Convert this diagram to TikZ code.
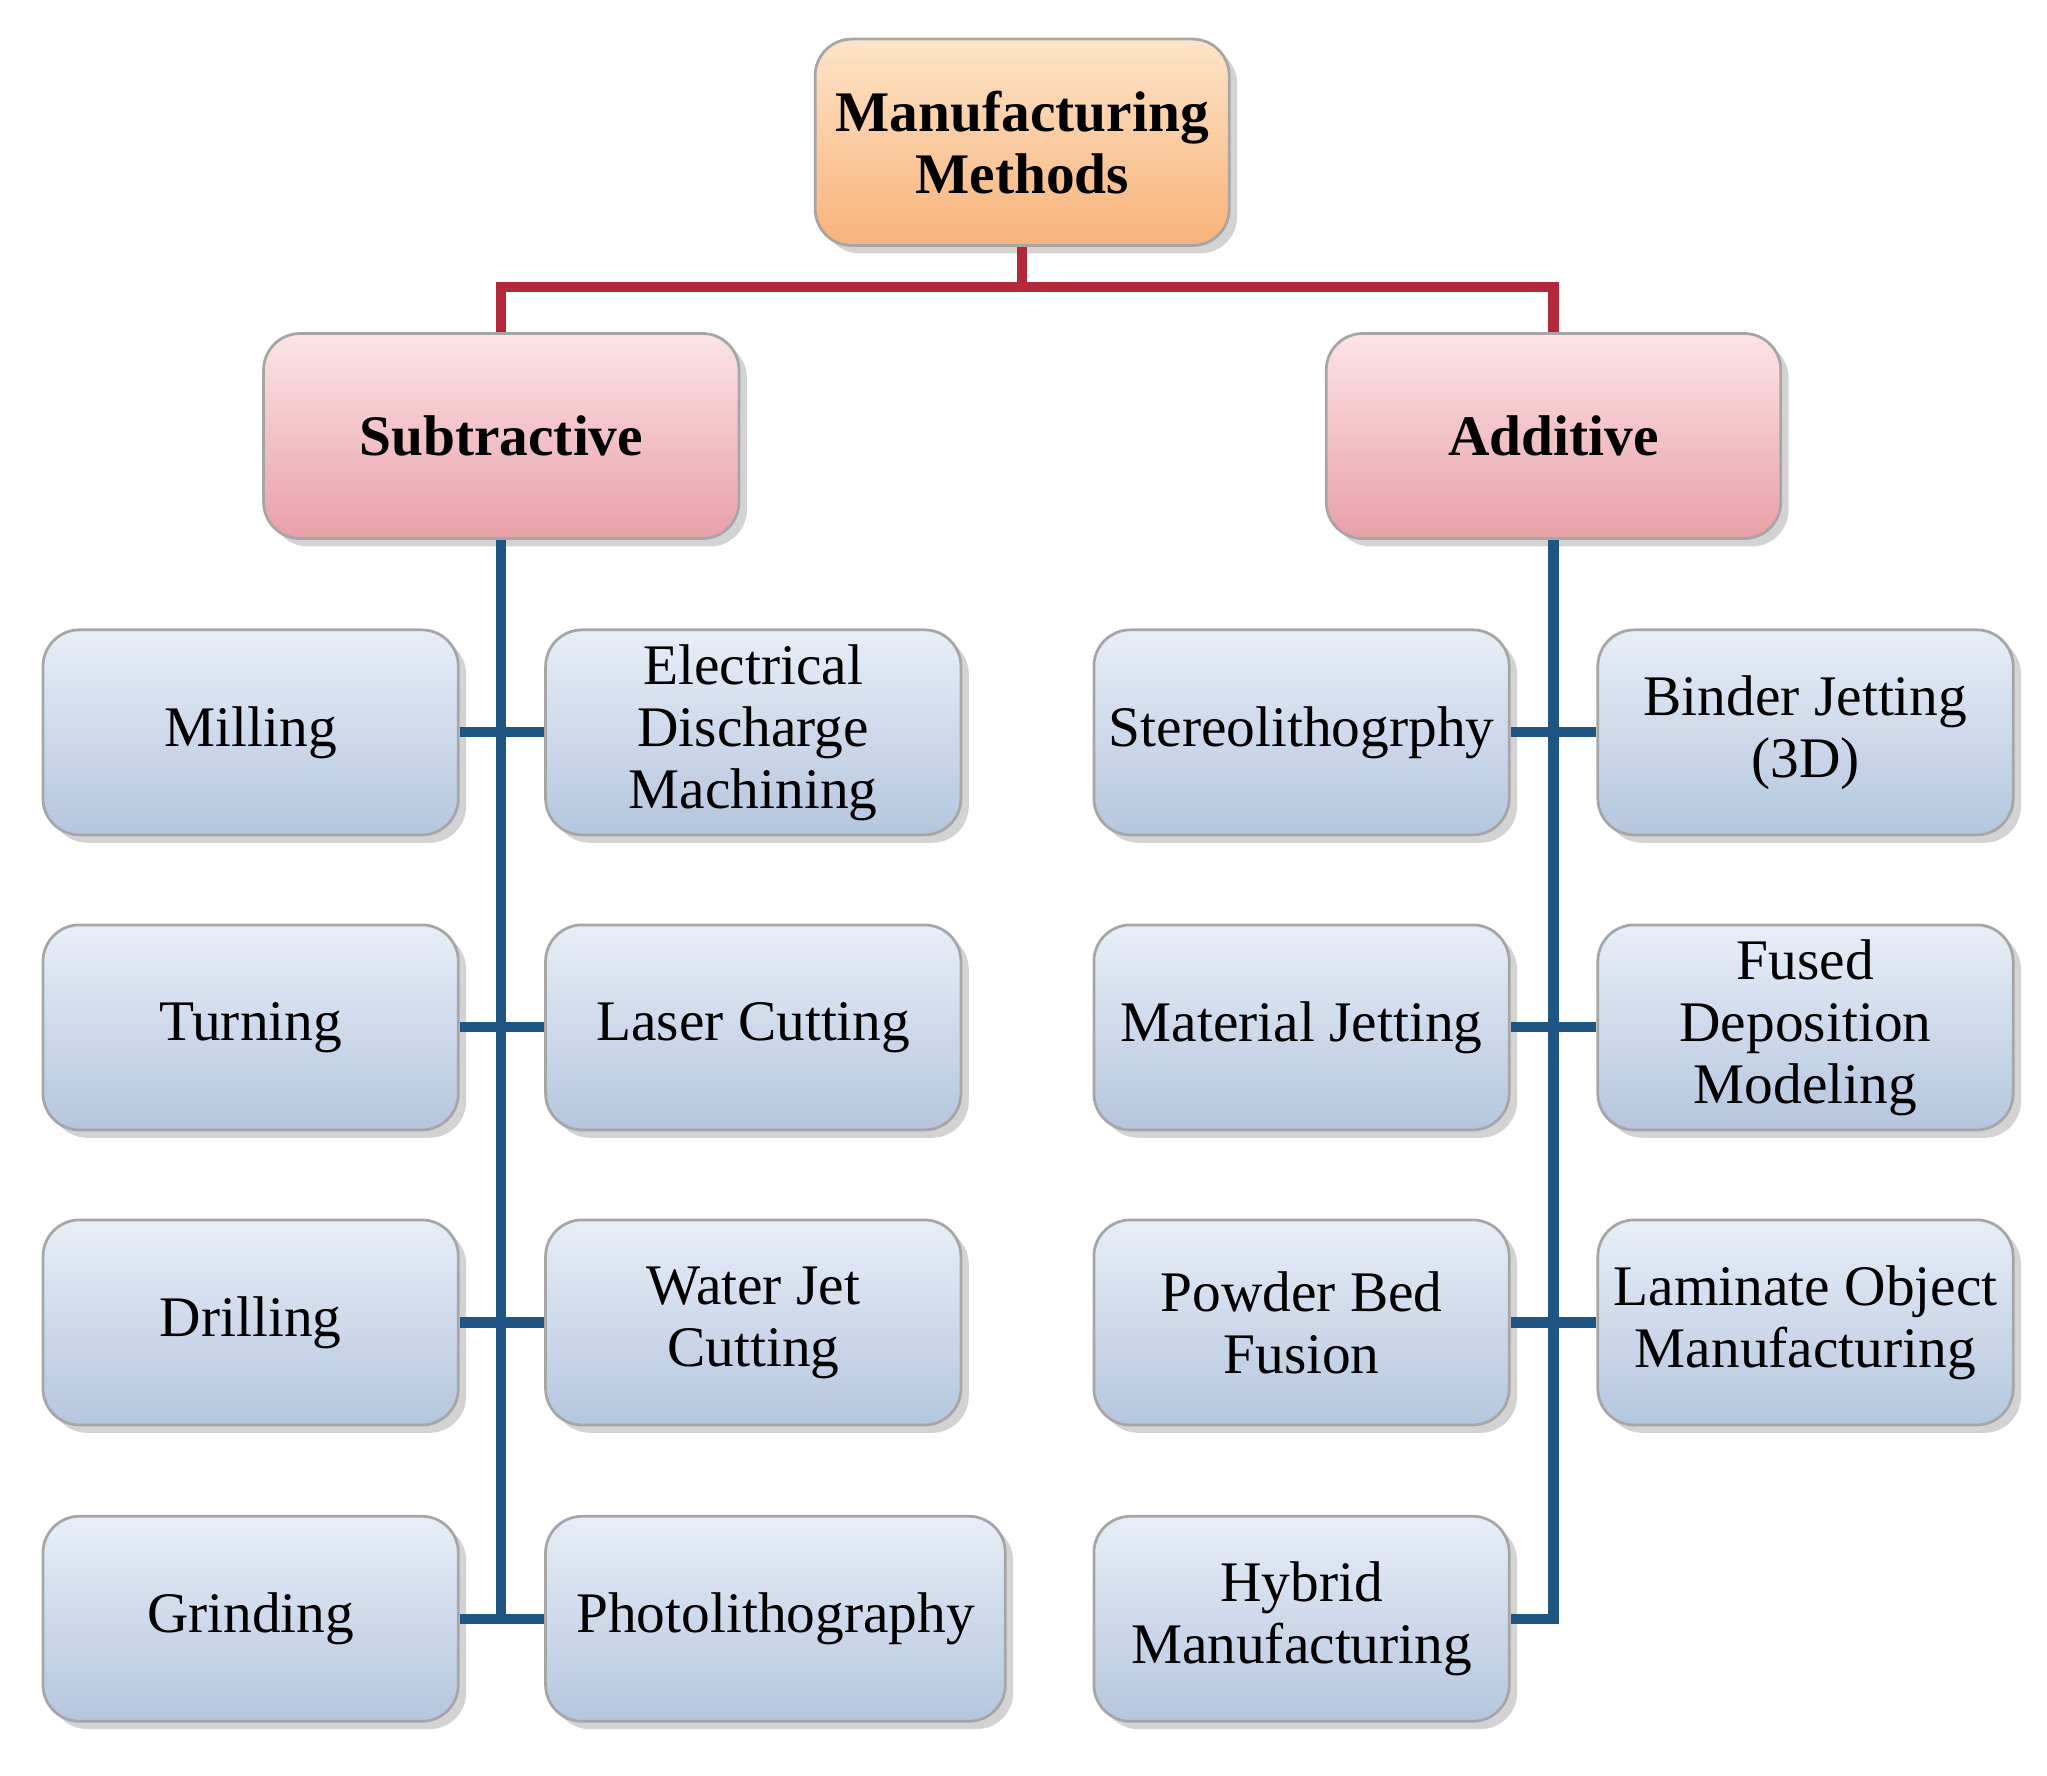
\documentclass[tikz,border=0pt]{standalone}
\usepackage{fontspec}
\setmainfont{Liberation Serif}
\usetikzlibrary{shadows}
\begin{document}
\begin{tikzpicture}[x=0.01cm,y=-0.01cm,
 box/.style={draw=gray!70,line width=0.6pt,rounded corners=0.28cm,align=center,inner sep=0pt,
   font=\fontsize{12.5}{13.5}\selectfont,drop shadow={shadow xshift=0.06cm,shadow yshift=-0.06cm,opacity=0.35}},
 leaf/.style={box,top color={rgb,255:red,232;green,238;blue,247},bottom color={rgb,255:red,180;green,198;blue,222},minimum width=3.18cm,minimum height=1.57cm},
 cat/.style={box,top color={rgb,255:red,252;green,228;blue,230},bottom color={rgb,255:red,232;green,160;blue,168},minimum height=1.57cm,font=\bfseries\fontsize{12.5}{13.5}\selectfont},
 red/.style={draw={rgb,255:red,180;green,40;blue,60},line width=2.2pt},
 blu/.style={draw={rgb,255:red,30;green,85;blue,130},line width=2.2pt}]
\useasboundingbox (0,0) rectangle (1568,1360);
\node[box,top color={rgb,255:red,253;green,228;blue,200},bottom color={rgb,255:red,248;green,178;blue,122},minimum width=3.17cm,minimum height=1.58cm,font=\bfseries\fontsize{12.5}{13.5}\selectfont] (top) at (783,109) {Manufacturing\\Methods};
\node[cat,minimum width=3.64cm] (sub) at (384,334) {Subtractive};
\node[cat,minimum width=3.48cm] (add) at (1190,334) {Additive};
\node[leaf] (l1) at (192,561) {Milling};
\node[leaf] (l2) at (192,787) {Turning};
\node[leaf] (l3) at (192,1013) {Drilling};
\node[leaf] (l4) at (192,1240) {Grinding};
\node[leaf] (m1) at (577,561) {Electrical\\Discharge\\Machining};
\node[leaf] (m2) at (577,787) {Laser Cutting};
\node[leaf] (m3) at (577,1013) {Water Jet\\Cutting};
\node[leaf,minimum width=3.52cm] (m4) at (594,1240) {Photolithography};
\node[leaf] (r1) at (997,561) {Stereolithogrphy};
\node[leaf] (r2) at (997,787) {Material Jetting};
\node[leaf] (r3) at (997,1013) {Powder Bed\\Fusion};
\node[leaf] (r4) at (997,1240) {Hybrid\\Manufacturing};
\node[leaf] (s1) at (1383,561) {Binder Jetting\\(3D)};
\node[leaf] (s2) at (1383,787) {Fused\\Deposition\\Modeling};
\node[leaf] (s3) at (1383,1013) {Laminate Object\\Manufacturing};
\coordinate (j) at (783,220);
\draw[red] (top.south) -- (j) -| (sub.north);
\draw[red] (j) -| (add.north);
\coordinate (ls) at (384,1240);
\coordinate (rs) at (1190,1240);
\draw[blu] (sub.south) -- (ls) -- (m4.west);
\draw[blu] (ls) -- (l4.east);
\foreach \a/\b in {l1/m1,l2/m2,l3/m3}{\draw[blu] (\a.east) -- (\b.west);}
\draw[blu] (add.south) -- (rs) -- (r4.east);
\foreach \a/\b in {r1/s1,r2/s2,r3/s3}{\draw[blu] (\a.east) -- (\b.west);}
\end{tikzpicture}
\end{document}
